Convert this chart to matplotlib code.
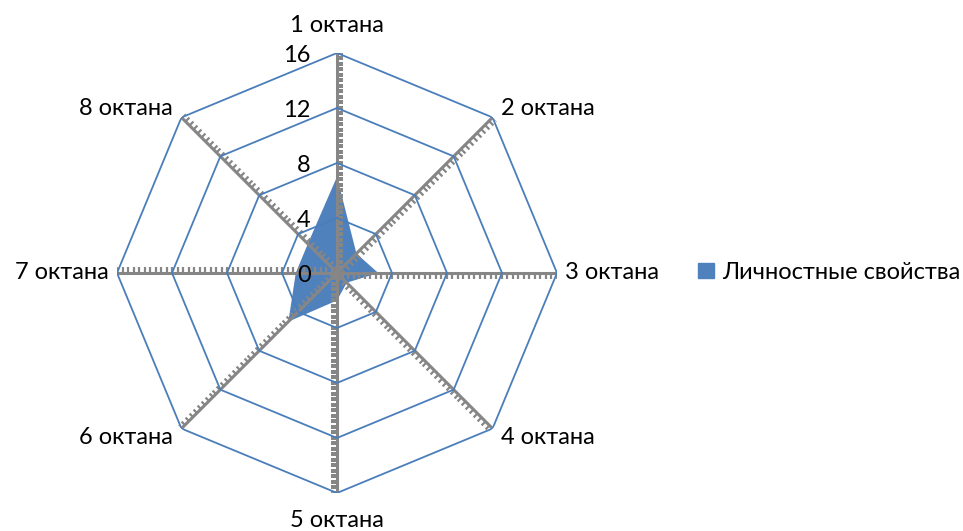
import numpy as np
import matplotlib.pyplot as plt
from matplotlib.markers import MarkerStyle
from matplotlib.path import Path
from matplotlib.transforms import Affine2D
from matplotlib.patches import Patch

plt.rcParams['font.family'] = ['Lato', 'DejaVu Sans']

categories = ['1 октана', '2 октана', '3 октана', '4 октана',
              '5 октана', '6 октана', '7 октана', '8 октана']
values = [7, 2, 3, 1, 2, 5, 3, 3]
rings = [4, 8, 12, 16]
series_name = 'Личностные свойства'

grid_color = '#4a7ebb'
fill_color = '#4f81bd'
spoke_color = '#868686'
fs = 17

n = len(categories)
theta = np.arange(n) * 2 * np.pi / n
theta_closed = np.append(theta, theta[0])

fig = plt.figure(figsize=(9.63, 5.31), dpi=100)
ax = fig.add_axes([0.1215, 0.0716, 0.4569, 0.8286], projection='polar')
ax.set_theta_zero_location('N')
ax.set_theta_direction(-1)
ax.set_ylim(0, 16)
ax.axis('off')

# data area
vals_closed = values + values[:1]
ax.fill(theta_closed, vals_closed, color=fill_color, lw=0, zorder=1)

# spokes with one-sided minor tick marks (clockwise side)
tick_path = Path([(0, 0), (1, 0)])
tick_r = np.arange(0.4, 16.01, 0.4)
for i, t in enumerate(theta):
    ax.plot([t, t], [0, 16], color=spoke_color, lw=2.2, zorder=2)
    screen_angle = 90 - i * 360 / n
    m = MarkerStyle(tick_path, transform=Affine2D().rotate_deg(screen_angle - 90))
    ax.plot([t] * len(tick_r), tick_r, ls='none', marker=m, ms=8,
            mew=1.6, mec=spoke_color, mfc='none', zorder=2)

# octagon gridlines
for r in rings:
    ax.plot(theta_closed, [r] * (n + 1), color=grid_color, lw=1.3, zorder=3)

# category labels
for i, (t, lab) in enumerate(zip(theta, categories)):
    s = np.sin(t)
    c = np.cos(t)
    if abs(s) < 0.01:
        ax.text(t, 18.0, lab, ha='center', va='center', fontsize=fs)
    elif abs(c) < 0.01:
        ax.text(t, 16.6, lab, ha='left' if s > 0 else 'right',
                va='center', fontsize=fs)
    else:
        ax.text(t, 16.9, lab, ha='left' if s > 0 else 'right',
                va='center', fontsize=fs)

# value axis labels
for r in [0] + rings:
    ax.annotate(str(r), xy=(0, r), xytext=(-19, -2), textcoords='offset points',
                ha='right', va='center', fontsize=fs)

fig.legend(handles=[Patch(color=fill_color, label=series_name)],
           loc='center left', bbox_to_anchor=(0.703, 0.487), frameon=False,
           fontsize=fs, handlelength=0.65, handleheight=0.65,
           handletextpad=0.35)

fig.savefig('out.png', dpi=100)
